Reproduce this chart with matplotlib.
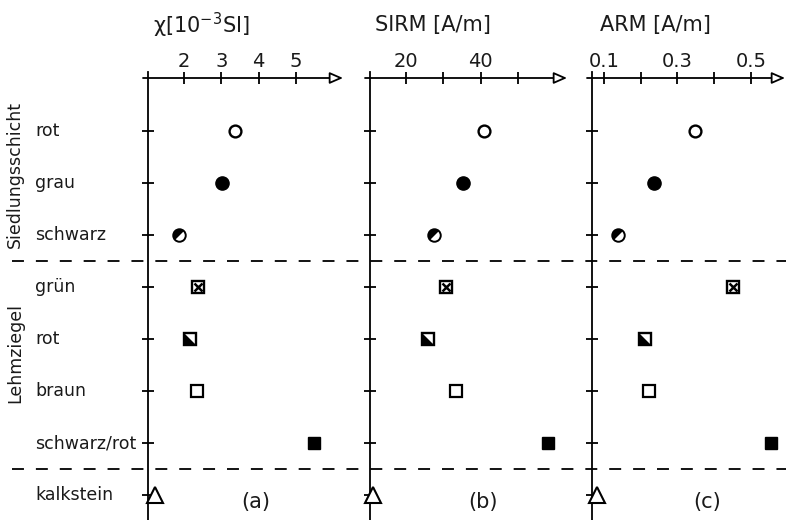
import numpy as np
import matplotlib
matplotlib.use('Agg')
import matplotlib.pyplot as plt
from matplotlib.path import Path
from matplotlib.transforms import blended_transform_factory

plt.rcParams['font.family'] = ['DejaVu Sans']
plt.rcParams['lines.scale_dashes'] = False

########################################################################
### DATA
rows = ['rot', 'grau', 'schwarz', 'grün', 'rot', 'braun', 'schwarz/rot', 'kalkstein']
groups = ['Siedlungsschicht'] * 3 + ['Lehmziegel'] * 4 + ['']
symbols = ['open_circle', 'filled_circle', 'half_circle', 'x_square',
           'half_square', 'open_square', 'filled_square', 'open_triangle']

chi = [3.37, 3.01, 1.86, 2.38, 2.16, 2.36, 5.50, 1.22]          # 10^-3 SI
sirm = [40.9, 35.3, 27.5, 30.7, 26.0, 33.4, 58.1, 11.1]         # A/m
arm = [0.348, 0.237, 0.139, 0.452, 0.212, 0.224, 0.554, 0.082]  # A/m

chi_ticks = [2, 3, 4, 5]
chi_labels = ['2', '3', '4', '5']
sirm_ticks = [20, 30, 40, 50]
sirm_labels = ['20', '', '40', '']
arm_ticks = [0.1, 0.2, 0.3, 0.4, 0.5]
arm_labels = ['0.1', '', '0.3', '', '0.5']

########################################################################
W, H = 786, 520
fig = plt.figure(figsize=(W / 100, H / 100), dpi=100, facecolor='w')

row_top, row_step = 131, 52
def px2row(py):
    return (py - row_top) / row_step

y_lo, y_hi = px2row(H), px2row(0)
y_axis = px2row(78)
LW = 1.3
TXT = '#1a1a1a'

# marker shapes (y up): lower-left triangle of a square, upper-left half of a disc
tri = Path([(-1, 1), (-1, -1), (1, -1), (-1, 1)],
           [Path.MOVETO, Path.LINETO, Path.LINETO, Path.CLOSEPOLY])
ang = np.radians(np.linspace(45, 225, 40))
half_disc = Path(np.column_stack((np.cos(ang), np.sin(ang))).tolist() + [(np.cos(ang[0]), np.sin(ang[0]))])

def draw_marker(ax, x, y, kind):
    kw = dict(ls='none', color='k', mec='k', zorder=5, clip_on=False)
    if kind == 'open_circle':
        ax.plot(x, y, 'o', ms=8.5, mfc='w', mew=1.7, **kw)
    elif kind == 'filled_circle':
        ax.plot(x, y, 'o', ms=9.5, mfc='k', **kw)
    elif kind == 'half_circle':
        ax.plot(x, y, 'o', ms=9, mfc='w', mew=1.4, **kw)
        ax.plot(x, y, marker=half_disc, ms=9, mfc='k', mew=0, **kw)
    elif kind == 'x_square':
        ax.plot(x, y, 's', ms=8, mfc='w', mew=1.7, **kw)
        ax.plot(x, y, 'x', ms=5.5, mew=1.8, **kw)
    elif kind == 'half_square':
        ax.plot(x, y, 's', ms=8, mfc='w', mew=1.7, **kw)
        ax.plot(x, y, marker=tri, ms=8, mfc='k', mew=0, **kw)
    elif kind == 'open_square':
        ax.plot(x, y, 's', ms=8, mfc='w', mew=1.6, **kw)
    elif kind == 'filled_square':
        ax.plot(x, y, 's', ms=9, mfc='k', **kw)
    elif kind == 'open_triangle':
        ax.plot(x, y, '^', ms=12, mfc='w', mew=1.5, **kw)

def make_panel(title, values, xlim, left_px, right_px, ticks, labels, tag, tag_px, title_dx):
    ax = fig.add_axes([left_px / W, 0, (right_px - left_px) / W, 1])
    ax.set_xlim(xlim)
    ax.set_ylim(y_lo, y_hi)
    ax.patch.set_visible(False)
    ax.spines['right'].set_visible(False)
    ax.spines['bottom'].set_visible(False)
    ax.spines['left'].set_bounds(px2row(72), y_lo)
    ax.spines['left'].set_linewidth(LW)
    ax.spines['top'].set_position(('data', y_axis))
    ax.spines['top'].set_color('none')
    ax.xaxis.set_ticks_position('top')
    ax.set_xticks(ticks, labels)
    ax.set_yticks(range(len(rows)), [''] * len(rows))
    ax.tick_params(axis='both', direction='inout', length=8, width=LW)
    ax.tick_params(axis='x', labelsize=14, pad=1, labelcolor=TXT)

    # horizontal axis with open arrow head
    per_px = (xlim[1] - xlim[0]) / (right_px - left_px)
    ax.annotate('', xy=(xlim[1], y_axis), xytext=(xlim[0] - 5 * per_px, y_axis),
                arrowprops=dict(arrowstyle='-|>,head_length=0.8,head_width=0.35',
                                fc='w', ec='k', lw=LW, shrinkA=0, shrinkB=0),
                annotation_clip=False)

    for i, (v, kind) in enumerate(zip(values, symbols)):
        draw_marker(ax, v, i, kind)

    trans = blended_transform_factory(fig.transFigure, ax.transData)
    ax.text((left_px + title_dx) / W, px2row(25), title, transform=trans,
            ha='left', va='center', fontsize=15, color=TXT)
    ax.text(tag_px / W, px2row(502), tag, transform=trans,
            ha='center', va='center', fontsize=15, color=TXT)
    return ax

ax_a = make_panel('χ[10$^{-3}$SI]', chi, (1.03, 6.27), 148, 343,
                  chi_ticks, chi_labels, '(a)', 256, 5)
ax_b = make_panel('SIRM [A/m]', sirm, (10.3, 63.2), 370, 567,
                  sirm_ticks, sirm_labels, '(b)', 483, 5)
ax_c = make_panel('ARM [A/m]', arm, (0.068, 0.592), 592, 785,
                  arm_ticks, arm_labels, '(c)', 707, 8)

# row labels, group labels and dashed separators
ftrans = blended_transform_factory(fig.transFigure, ax_a.transData)
for i, name in enumerate(rows):
    ax_a.text(35 / W, i, name, transform=ftrans, ha='left', va='center',
              fontsize=12.5, color=TXT)

group_centre = {'Siedlungsschicht': px2row(174), 'Lehmziegel': px2row(353)}
for g, yc in group_centre.items():
    ax_a.text(15 / W, yc, g, transform=ftrans, rotation=90, ha='center',
              va='center', fontsize=12.5, color=TXT)

for i in range(1, len(groups)):
    if groups[i] != groups[i - 1]:
        ax_a.plot([12 / W, 1.0], [i - 0.5, i - 0.5], transform=ftrans,
                  clip_on=False, color='k', lw=LW, ls=(0, (8.6, 8.6)))

fig.savefig('out.png', dpi=100, facecolor='w')
